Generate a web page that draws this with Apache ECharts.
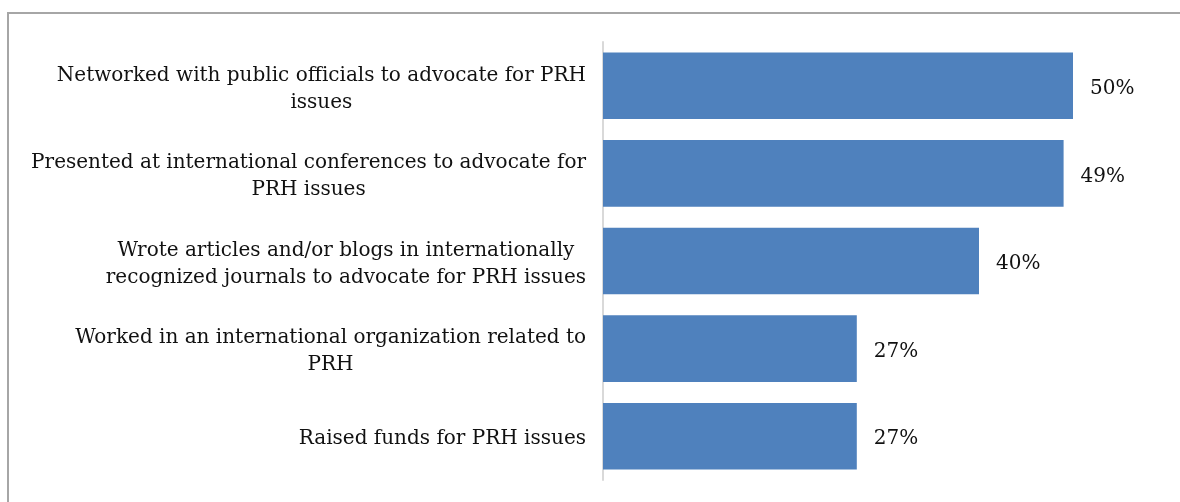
<!DOCTYPE html>
<html>
<head>
<meta charset="utf-8">
<script src="https://cdn.jsdelivr.net/npm/echarts@6/dist/echarts.min.js"></script>
<style>
  html, body { margin: 0; padding: 0; background: #fff; }
  #frame {
    position: absolute; left: 7px; top: 12px; width: 1180px; height: 500px;
    border-left: 2px solid #a6a6a6; border-top: 2px solid #a6a6a6;
  }
  #chart { position: absolute; left: 0; top: 0; width: 1180px; height: 502px; }
</style>
</head>
<body>
<div id="frame"></div>
<div id="chart"></div>
<script>
// categories, top to bottom as in the picture
var activities = [
    'Networked with public officials to advocate for PRH\nissues',
    'Presented at international conferences to advocate for\nPRH issues',
    'Wrote articles and/or blogs in internationally\nrecognized journals to advocate for PRH issues',
    'Worked in an international organization related to\nPRH',
    'Raised funds for PRH issues'
];
var shares = [50, 49, 40, 27, 27];   // percent

var serifFont = 'DejaVu Serif';

var myChart = echarts.init(document.getElementById('chart'));

var option = {
    backgroundColor: 'rgba(0,0,0,0)',
    animation: false,
    grid: {
        left: 603,
        right: 13,
        top: 42,
        bottom: 22
    },
    xAxis: {
        type: 'value',
        min: 0,
        max: 60,
        show: false
    },
    yAxis: {
        type: 'category',
        inverse: true,
        data: activities,
        axisLine: { show: true, lineStyle: { color: '#d9d9d9', width: 2 } },
        axisTick: { show: false },
        splitLine: { show: false },
        axisLabel: {
            margin: 17,
            padding: [6, 0, 0, 0],
            formatter: function (value) {
                // each line centred inside the block, block right-aligned to the axis
                return value.split('\n').map(function (s) { return '{c|' + s + '}'; }).join('\n');
            },
            rich: {
                c: {
                    align: 'center',
                    fontFamily: serifFont,
                    fontSize: 20,
                    lineHeight: 27,
                    color: '#111'
                }
            }
        }
    },
    series: [
        {
            type: 'bar',
            data: shares,
            barCategoryGap: '24%',
            itemStyle: { color: '#4f81bd' },
            label: {
                show: true,
                position: 'right',
                distance: 17,
                offset: [0, 3],
                formatter: '{c}%',
                fontFamily: serifFont,
                fontSize: 20,
                color: '#111'
            }
        }
    ]
};

myChart.setOption(option);
</script>
</body>
</html>
